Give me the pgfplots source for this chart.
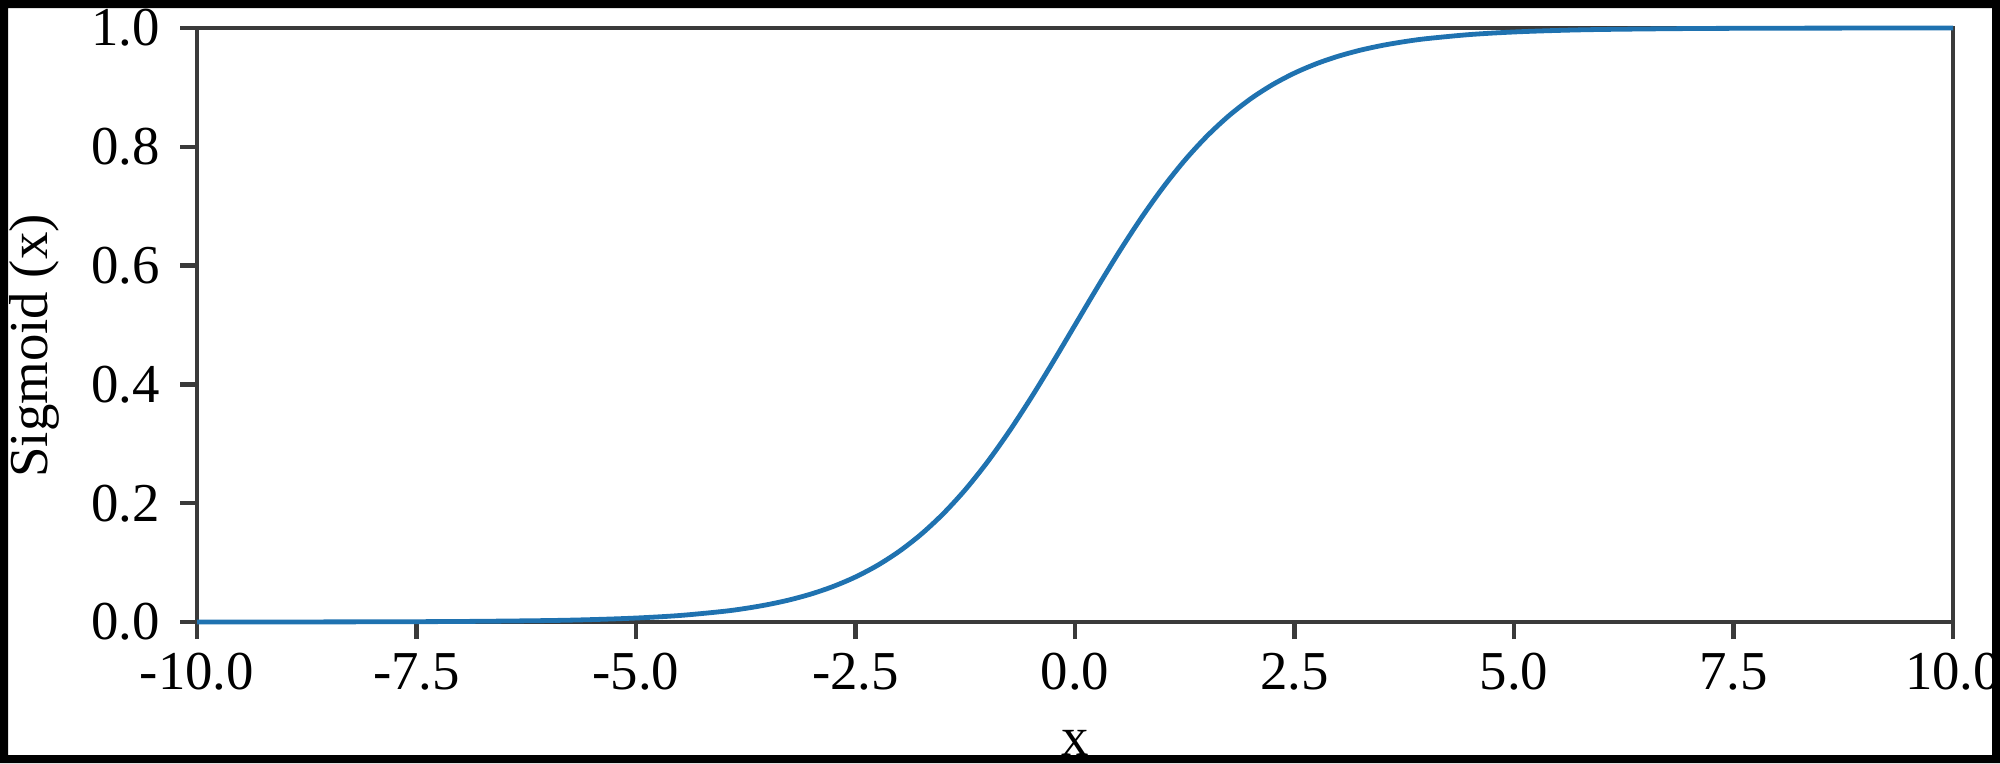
\documentclass[border=0pt]{standalone}
\usepackage{fontspec}
\setmainfont{Liberation Serif}
\usepackage{pgfplots}
\usepackage{pgfplotstable}
\pgfplotsset{compat=1.18}

\definecolor{curveblue}{RGB}{31,114,176}
\definecolor{axisgray}{RGB}{58,58,58}

% sigmoid values
\pgfplotstableread{
x y
-10 0.00005
-9 0.00012
-8 0.00034
-7 0.00091
-6 0.00247
-5.5 0.00407
-5 0.00669
-4.5 0.01099
-4 0.01799
-3.75 0.02298
-3.5 0.02931
-3.25 0.03733
-3 0.04743
-2.75 0.06009
-2.5 0.07586
-2.25 0.09535
-2 0.11920
-1.75 0.14805
-1.5 0.18243
-1.25 0.22270
-1 0.26894
-0.75 0.32082
-0.5 0.37754
-0.25 0.43782
0 0.50000
0.25 0.56218
0.5 0.62246
0.75 0.67918
1 0.73106
1.25 0.77730
1.5 0.81757
1.75 0.85195
2 0.88080
2.25 0.90465
2.5 0.92414
2.75 0.93991
3 0.95257
3.25 0.96267
3.5 0.97069
3.75 0.97702
4 0.98201
4.5 0.98901
5 0.99331
5.5 0.99593
6 0.99753
7 0.99909
8 0.99966
9 0.99988
10 0.99995
}\sigmoiddata

\begin{document}
\begin{tikzpicture}
\begin{axis}[
    at={(49.25pt,35.25pt)}, anchor=south west,
    scale only axis,
    width=439pt, height=148.5pt,
    xmin=-10, xmax=10, ymin=0, ymax=1,
    xtick={-10,-7.5,-5,-2.5,0,2.5,5,7.5,10},
    ytick={0,0.2,0.4,0.6,0.8,1},
    tick pos=left, tick align=outside,
    major tick length=4.25pt,
    axis line style={axisgray, line width=1.1pt},
    tick style={axisgray, line width=1.1pt},
    clip=false,
    /pgf/number format/assume math mode=true,
    /pgf/number format/fixed,
    /pgf/number format/fixed zerofill,
    /pgf/number format/precision=1,
    tick label style={font=\fontsize{13.7}{16}\selectfont},
    yticklabel style={xshift=-1.5pt},
    label style={font=\fontsize{13.7}{16}\selectfont},
    xlabel={x},
    ylabel={Sigmoid (x)},
    xlabel style={at={(axis description cs:0.5,-0.224)}, anchor=base},
    ylabel style={at={(axis description cs:-0.0854,0.465)}, anchor=base},
]
\addplot[curveblue, line width=1.2pt, smooth] table[x=x, y=y] {\sigmoiddata};
\end{axis}
\pgfresetboundingbox
\useasboundingbox (0,0) rectangle (500pt,190.75pt);
\fill[black, even odd rule] (0,0) rectangle (500pt,190.75pt)
    (2pt,2pt) rectangle (498pt,188.75pt);
\end{tikzpicture}
\end{document}
